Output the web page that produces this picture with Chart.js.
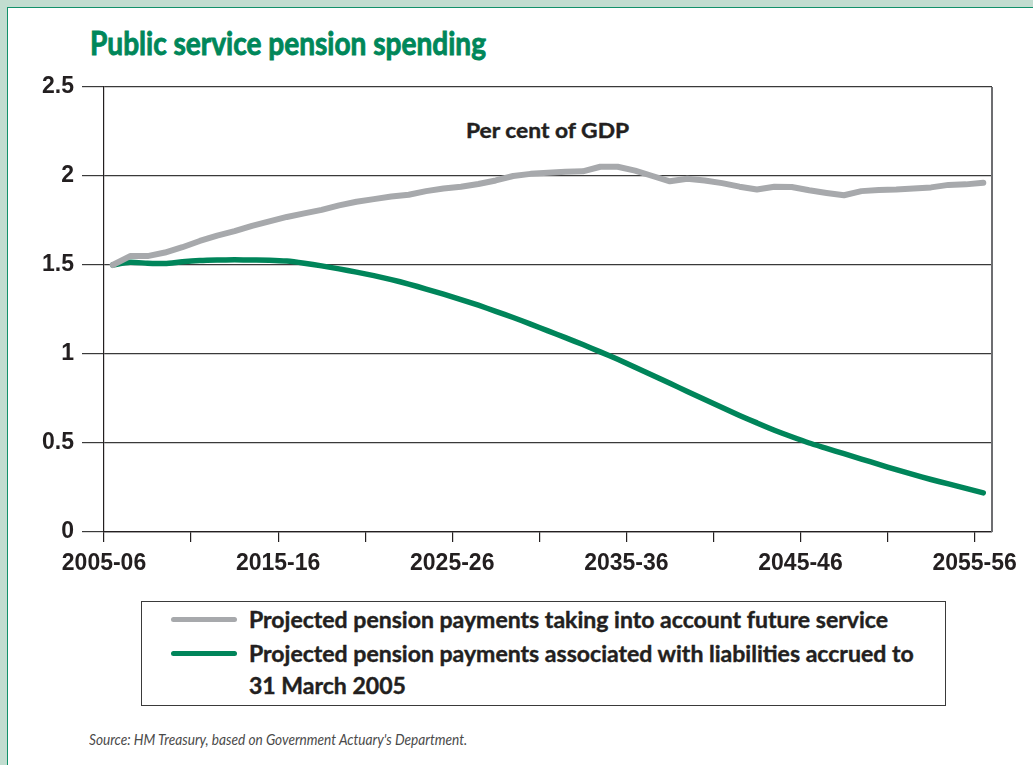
<!DOCTYPE html>
<html>
<head>
<meta charset="utf-8">
<title>Public service pension spending</title>
<script src="https://cdn.jsdelivr.net/npm/chart.js@4"></script>
<style>
  html, body { margin: 0; padding: 0; background: #fff; }
  body { width: 1033px; height: 765px; position: relative; overflow: hidden; }
  .band { position: absolute; left: 0; top: 0; right: 0; bottom: 0;
          border-top: 7px solid #c2ddd0; border-left: 7px solid #c2ddd0; }
  .band .edge { position: absolute; left: 0; top: 0; right: 0; bottom: 0;
          border-top: 1.5px solid #12916a; border-left: 1.5px solid #12916a; }
  .fit { position: absolute; white-space: nowrap; transform-origin: 0 0; }
  #title { left: 90px; top: 22px; margin: 0; line-height: 1.2;
           font: bold 33px Lato, sans-serif; color: #00875a;
           -webkit-text-stroke: 0.9px #00875a; }
  #unit { left: 466px; top: 118px; line-height: 1.2;
          font: bold 20px Lato, sans-serif; color: #231f20;
          -webkit-text-stroke: 0.4px #231f20; }
  #chart { position: absolute; left: 0; top: 0; }
  #legend { position: absolute; left: 141px; top: 601px; width: 805px; height: 105px;
            border: 1.5px solid #3a3a3a; box-sizing: border-box; }
  #legend .item { position: absolute; left: 107px; }
  #legend .text { font: bold 22px Lato, sans-serif; line-height: 32px; color: #231f20;
                  -webkit-text-stroke: 0.4px #231f20; transform-origin: 0 0; }
  #legend .swatch { position: absolute; left: -78px; top: 13px; width: 66px; height: 5px; border-radius: 3px; }
  #source { left: 89px; top: 729px; line-height: 1.2;
            font: italic 16px Lato, sans-serif; color: #4a4a4a; }
</style>
</head>
<body>
<div class="band"><div class="edge"></div></div>
<h1 id="title" class="fit">Public service pension spending</h1>
<div id="unit" class="fit">Per cent of GDP</div>
<canvas id="chart" width="1033" height="580"></canvas>
<div id="legend"></div>
<div id="source" class="fit">Source: HM Treasury, based on Government Actuary's Department.</div>

<script>
// fiscal years 2005-06 .. 2055-56, one point per year
var firstYear = 2005;
var yearCount = 51;

var tickLabels = ['2005-06', '2015-16', '2025-26', '2035-36', '2045-46', '2055-56'];

// per cent of GDP
var futureService = [
  1.50, 1.55, 1.55, 1.57, 1.60, 1.635, 1.665, 1.69, 1.72, 1.745,
  1.77, 1.79, 1.81, 1.835, 1.855, 1.87, 1.885, 1.895, 1.915, 1.93,
  1.94, 1.955, 1.975, 2.00, 2.012, 2.018, 2.024, 2.026, 2.052, 2.052,
  2.03, 2.00, 1.97, 1.985, 1.975, 1.96, 1.94, 1.924, 1.94, 1.938,
  1.92, 1.905, 1.892, 1.915, 1.922, 1.924, 1.93, 1.936, 1.95, 1.953,
  1.962
];

var accruedTo2005 = [
  1.50, 1.515, 1.51, 1.508, 1.518, 1.525, 1.528, 1.529, 1.528, 1.527,
  1.522, 1.51, 1.495, 1.478, 1.46, 1.44, 1.418, 1.393, 1.365, 1.336,
  1.306, 1.274, 1.24, 1.205, 1.168, 1.13, 1.092, 1.053, 1.012, 0.97,
  0.925, 0.88, 0.835, 0.79, 0.745, 0.70, 0.655, 0.613, 0.572, 0.535,
  0.50, 0.47, 0.44, 0.41, 0.38, 0.35, 0.322, 0.295, 0.27, 0.245,
  0.22
];

var seriesNames = [
  'Projected pension payments taking into account future service',
  'Projected pension payments associated with liabilities accrued to 31 March 2005'
];

var GREY = '#a7a9ac';
var GREEN = '#00855a';
var INK = '#231f20';
var AXIS_FONT = '"Liberation Sans", Arimo, Arial, sans-serif';

// each year sits in the middle of its slot on the axis
function points(values) {
  var out = [];
  for (var i = 0; i < values.length; i++) {
    out.push({ x: firstYear + i + 0.5, y: values[i] });
  }
  return out;
}

function fyLabel(start) {
  var end = String((start + 1) % 100);
  if (end.length < 2) end = '0' + end;
  return start + '-' + end;
}

var measureCtx = document.createElement('canvas').getContext('2d');
function textWidth(font, text) {
  measureCtx.font = font;
  return measureCtx.measureText(text).width;
}

// squeeze a line of text horizontally to the given width
function fitTo(el, width) {
  var cs = getComputedStyle(el);
  var font = cs.fontStyle + ' ' + cs.fontWeight + ' ' + cs.fontSize + ' ' + cs.fontFamily;
  var s = width / textWidth(font, el.textContent);
  el.style.transform = 'scaleX(' + s + ')';
  return s;
}

fitTo(document.getElementById('title'), 396);
fitTo(document.getElementById('unit'), 164);
fitTo(document.getElementById('source'), 379);

// dark right-hand edge of the plot box
var rightEdge = {
  id: 'rightEdge',
  beforeDatasetsDraw: function(chart) {
    var a = chart.chartArea, ctx = chart.ctx;
    ctx.save();
    ctx.strokeStyle = '#6d6e71';
    ctx.lineWidth = 2;
    ctx.beginPath();
    ctx.moveTo(a.right, a.top);
    ctx.lineTo(a.right, a.bottom);
    ctx.stroke();
    ctx.restore();
  }
};

var ctx = document.getElementById('chart').getContext('2d');
var myChart = new Chart(ctx, {
  type: 'line',
  data: {
    datasets: [{
      label: seriesNames[0],
      data: points(futureService),
      borderColor: GREY,
      borderWidth: 6,
      pointRadius: 0,
      borderCapStyle: 'round',
      borderJoinStyle: 'round',
      tension: 0
    }, {
      label: seriesNames[1],
      data: points(accruedTo2005),
      borderColor: GREEN,
      borderWidth: 5.5,
      pointRadius: 0,
      borderCapStyle: 'round',
      borderJoinStyle: 'round',
      tension: 0.2
    }]
  },
  options: {
    responsive: false,
    animation: false,
    layout: { padding: { top: 87, right: 41, left: 0, bottom: 0 } },
    plugins: {
      legend: { display: false },
      tooltip: { enabled: false }
    },
    scales: {
      x: {
        type: 'linear',
        min: firstYear,
        max: firstYear + yearCount,
        afterBuildTicks: function(scale) {
          var t = [];
          for (var y = firstYear; y <= firstYear + yearCount - 1; y += 5) t.push({ value: y });
          scale.ticks = t;
        },
        afterFit: function(scale) { scale.height = 48; },
        grid: { drawOnChartArea: false, color: '#231f20', lineWidth: 1.2, tickLength: 10 },
        border: { color: '#231f20', width: 1.2 },
        ticks: {
          autoSkip: false,
          maxRotation: 0,
          padding: 8,
          color: INK,
          font: { family: AXIS_FONT, size: 23, weight: 'bold' },
          callback: function(v) {
            var lbl = fyLabel(v);
            return tickLabels.indexOf(lbl) >= 0 ? lbl : '';
          }
        }
      },
      y: {
        min: 0,
        max: 2.5,
        afterFit: function(scale) { scale.width = 104; },
        grid: { color: '#3a3a3a', lineWidth: 1.2, tickLength: 22 },
        border: { color: '#231f20', width: 1.2 },
        ticks: {
          stepSize: 0.5,
          padding: 8,
          color: INK,
          font: { family: AXIS_FONT, size: 23, weight: 'bold' },
          callback: function(v) { return String(v); }
        }
      }
    }
  },
  plugins: [rightEdge]
});

// legend box built from the chart's own datasets
var legend = document.getElementById('legend');
var legendScale = 1;
myChart.data.datasets.forEach(function(ds, i) {
  var item = document.createElement('div');
  item.className = 'item';
  item.style.top = (2 + i * 34) + 'px';
  var sw = document.createElement('span');
  sw.className = 'swatch';
  sw.style.background = ds.borderColor;
  var txt = document.createElement('div');
  txt.className = 'text';
  txt.textContent = ds.label;
  item.appendChild(sw);
  item.appendChild(txt);
  legend.appendChild(item);
  if (i === 0) {
    legendScale = 639 / textWidth('bold 22px Lato', ds.label);
  }
});
Array.prototype.forEach.call(legend.querySelectorAll('.text'), function(t) {
  t.style.width = (682 / legendScale) + 'px';
  t.style.transform = 'scaleX(' + legendScale + ')';
});
</script>
</body>
</html>
